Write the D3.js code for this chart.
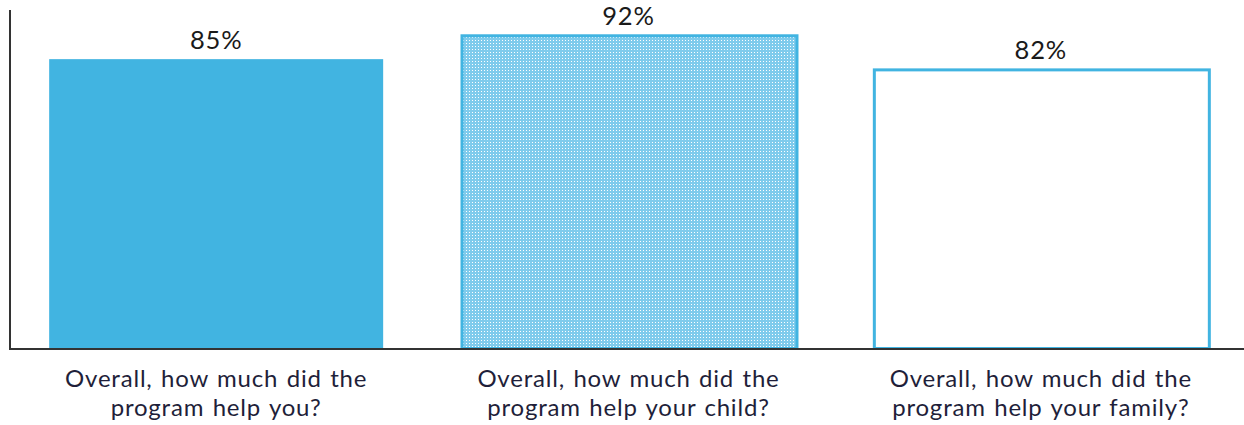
<!DOCTYPE html>
<html><head><meta charset="utf-8">
<script src="https://cdn.jsdelivr.net/npm/d3@7"></script>
<style>body{margin:0;background:#fff}svg{display:block}</style>
</head><body>
<svg id="c" width="1244" height="425"></svg>
<script>
const categories = ["Overall, how much did the|program help you?", "Overall, how much did the|program help your child?", "Overall, how much did the|program help your family?"];
const values = [85, 92, 82];
const valueLabels = ["85%", "92%", "82%"];
const styles = ["solid", "pattern", "outline"];

const svg = d3.select("#c");
const W = 1244, H = 425;
const baseY = 349, topY = 8, leftX = 10;
const blue = "#41b4e1";

const defs = svg.append("defs");
const pat = defs.append("pattern").attr("id","dots").attr("patternUnits","userSpaceOnUse")
  .attr("width",3).attr("height",3);
pat.append("rect").attr("width",3).attr("height",3).attr("fill","#7fcbec");
pat.append("rect").attr("x",1).attr("y",1).attr("width",1).attr("height",1).attr("fill","#ffffff");

const x = d3.scaleBand().domain(categories).range([leftX, 1247]).paddingInner(0.19).paddingOuter(0.095);
const y = d3.scaleLinear().domain([0, 100]).range([baseY, topY]);

const data = categories.map((c,i)=>({c, v: values[i], lab: valueLabels[i], s: styles[i]}));

const g = svg.append("g");
g.selectAll("rect.bar").data(data).enter().append("rect").attr("class","bar")
  .attr("x", d => d.s === "solid" ? x(d.c) : x(d.c) + 0.5)
  .attr("y", d => d.s === "solid" ? y(d.v) : y(d.v) + 0.5)
  .attr("width", d => d.s === "solid" ? x.bandwidth() : x.bandwidth() + 1)
  .attr("height", d => d.s === "solid" ? baseY - y(d.v) : baseY - y(d.v) - 1)
  .attr("fill", d => d.s === "solid" ? blue : d.s === "pattern" ? "url(#dots)" : "#fff")
  .attr("stroke", d => d.s === "solid" ? "none" : blue)
  .attr("stroke-width", 3);

g.selectAll("text.val").data(data).enter().append("text").attr("class","val")
  .attr("x", d => x(d.c) + x.bandwidth()/2)
  .attr("y", d => y(d.v) - 10)
  .attr("text-anchor","middle")
  .attr("font-family","Lato, sans-serif")
  .attr("font-size", 25.5)
  .attr("letter-spacing", 0.8)
  .attr("fill","#1a1a1a")
  .text(d => d.lab);

// axes
svg.append("line").attr("x1",leftX).attr("x2",leftX).attr("y1",10).attr("y2",baseY+1)
  .attr("stroke","#333").attr("stroke-width",2);
svg.append("line").attr("x1",leftX-1).attr("x2",W).attr("y1",baseY).attr("y2",baseY)
  .attr("stroke","#333").attr("stroke-width",2);

const lbl = g.selectAll("text.cat").data(data).enter().append("text").attr("class","cat")
  .attr("text-anchor","middle")
  .attr("font-family","Lato, sans-serif")
  .attr("font-size", 24)
  .attr("letter-spacing", 0.8)
  .attr("word-spacing", 1.5)
  .attr("fill","#1f1f3a");
lbl.selectAll("tspan").data(d => d.c.split("|").map(t => ({t, cx: x(d.c) + x.bandwidth()/2})))
  .enter().append("tspan")
  .attr("x", d => d.cx)
  .attr("y", (d,i) => 387 + i*29)
  .text(d => d.t);
</script>
</body></html>
